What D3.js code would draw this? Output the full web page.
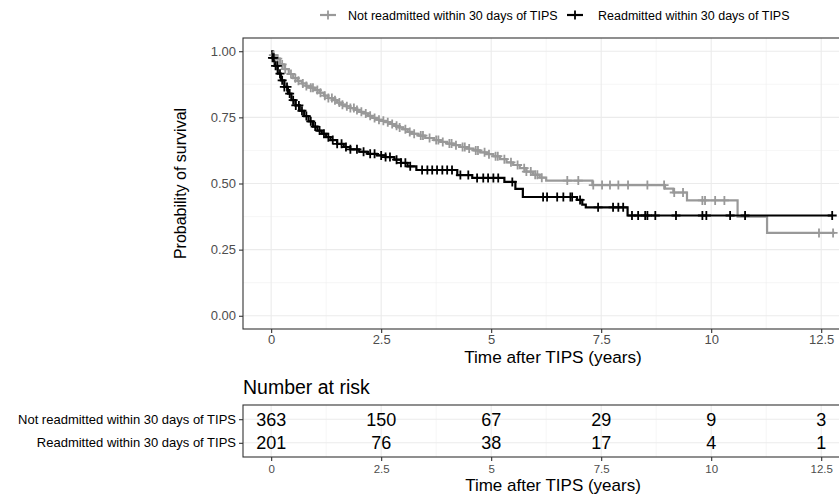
<!DOCTYPE html>
<html>
<head>
<meta charset="utf-8">
<script src="https://cdn.jsdelivr.net/npm/d3@7"></script>
<style>
  body { margin: 0; background: #fff; }
  svg { font-family: "Liberation Sans", Arial, sans-serif; }
</style>
</head>
<body>
<div id="chart"></div>
<script>
// group names
var groups = ["Not readmitted within 30 days of TIPS", "Readmitted within 30 days of TIPS"];
var groupColors = ["#999999", "#000000"];

// Kaplan-Meier steps: [time (years), survival after the step]
var notReadmittedSteps = [
  [0, 1.0], [0.05, 0.985], [0.1, 0.972], [0.2, 0.95], [0.3, 0.932], [0.4, 0.914],
  [0.5, 0.898], [0.6, 0.888], [0.7, 0.878], [0.8, 0.869], [0.9, 0.862], [1.0, 0.853],
  [1.1, 0.843], [1.2, 0.832], [1.3, 0.823], [1.4, 0.815], [1.5, 0.806], [1.6, 0.798],
  [1.7, 0.792], [1.8, 0.785], [1.9, 0.778], [2.0, 0.771], [2.1, 0.765], [2.2, 0.756],
  [2.3, 0.748], [2.4, 0.741], [2.5, 0.737], [2.6, 0.732], [2.7, 0.725], [2.8, 0.718],
  [2.9, 0.712], [3.0, 0.705], [3.1, 0.695], [3.2, 0.688], [3.35, 0.681], [3.5, 0.672],
  [3.7, 0.664], [3.85, 0.657], [4.0, 0.651], [4.15, 0.645], [4.3, 0.638], [4.45, 0.632],
  [4.6, 0.625], [4.75, 0.618], [4.9, 0.611], [5.05, 0.603], [5.2, 0.592], [5.35, 0.58],
  [5.5, 0.57], [5.65, 0.558], [5.8, 0.545], [5.95, 0.533], [6.1, 0.522], [6.25, 0.511],
  [7.3, 0.494], [8.95, 0.481], [9.14, 0.466], [9.45, 0.436], [10.6, 0.375], [11.27, 0.313],
  [12.81, 0.313]
];
var readmittedSteps = [
  [0, 1.0], [0.03, 0.975], [0.08, 0.945], [0.15, 0.915], [0.22, 0.89], [0.3, 0.865],
  [0.38, 0.84], [0.46, 0.815], [0.55, 0.795], [0.65, 0.775], [0.75, 0.755], [0.85, 0.735],
  [0.95, 0.715], [1.05, 0.7], [1.15, 0.688], [1.25, 0.675], [1.35, 0.664], [1.5, 0.65],
  [1.65, 0.638], [1.8, 0.629], [2.0, 0.62], [2.2, 0.612], [2.4, 0.606], [2.6, 0.6],
  [2.8, 0.59], [2.95, 0.578], [3.1, 0.565], [3.3, 0.551], [4.23, 0.532], [4.57, 0.521],
  [5.3, 0.506], [5.55, 0.48], [5.72, 0.449], [6.95, 0.438], [7.07, 0.42], [7.15, 0.41],
  [8.1, 0.379], [12.75, 0.379]
];

// censoring times (years)
var notReadmittedCensor = [0.05, 0.1, 0.15, 0.25, 0.32, 0.45, 0.55, 0.62, 0.72, 0.8, 0.9, 0.95,
  1.05, 1.12, 1.22, 1.3, 1.38, 1.45, 1.55, 1.62, 1.72, 1.8, 1.88, 1.95, 2.05, 2.15, 2.25, 2.35,
  2.45, 2.55, 2.65, 2.75, 2.85, 2.92, 3.05, 3.15, 3.25, 3.4, 3.45, 3.6, 3.75, 3.8, 3.9, 4.05,
  4.1, 4.2, 4.35, 4.4, 4.5, 4.65, 4.7, 4.85, 4.95, 5.1, 5.15, 5.3, 5.45, 5.6, 5.75, 5.8, 5.9,
  6.0, 6.05, 6.15, 6.73, 6.98, 7.32, 7.52, 7.7, 7.89, 8.11, 8.55, 8.93, 9.16, 9.36, 9.8, 9.86,
  10.09, 10.3, 12.45, 12.77];
var readmittedCensor = [0.03, 0.06, 0.1, 0.14, 0.2, 0.25, 0.3, 0.36, 0.42, 0.5, 0.56, 0.63,
  0.7, 0.8, 0.9, 1.0, 1.1, 1.2, 1.3, 1.4, 1.5, 1.6, 1.7, 1.8, 1.95, 2.1, 2.25, 2.35, 2.5, 2.6,
  2.7, 2.85, 2.95, 3.05, 3.16, 3.43, 3.55, 3.66, 3.77, 3.89, 4.0, 4.11, 4.3, 4.48, 4.68, 4.82,
  4.93, 5.05, 5.16, 5.48, 6.18, 6.27, 6.5, 6.64, 6.8, 6.84, 7.02, 7.43, 7.77, 7.89, 8.0, 8.2,
  8.34, 8.5, 8.55, 8.73, 9.2, 9.8, 9.89, 10.43, 10.77, 12.75];

// number at risk table
var riskTimes = [0, 2.5, 5, 7.5, 10, 12.5];
var notReadmittedRisk = [363, 150, 67, 29, 9, 3];
var readmittedRisk = [201, 76, 38, 17, 4, 1];

var xTicks = [0, 2.5, 5, 7.5, 10, 12.5];
var xMinor = [1.25, 3.75, 6.25, 8.75, 11.25];
var yTicks = [0, 0.25, 0.5, 0.75, 1];
var yMinor = [0.125, 0.375, 0.625, 0.875];

var W = 839, H = 498;
var svg = d3.select("#chart").append("svg")
    .attr("width", W)
    .attr("height", H);

var panelLeft = 243, panelRight = 863;
var x = d3.scaleLinear().domain([-0.64, 13.45]).range([panelLeft, panelRight]);
var y = d3.scaleLinear().domain([-0.05, 1.05]).range([329, 38]);

var stepData = [notReadmittedSteps, readmittedSteps];
var censorData = [notReadmittedCensor, readmittedCensor];

function survAt(steps, t) {
    var s = steps[0][1];
    for (var i = 0; i < steps.length; i++) {
        if (steps[i][0] <= t) s = steps[i][1];
    }
    return s;
}

// ---- main panel ----
var main = svg.append("g");

main.selectAll(".minorx").data(xMinor).enter().append("line")
    .attr("x1", function (d) { return x(d); }).attr("x2", function (d) { return x(d); })
    .attr("y1", y.range()[0]).attr("y2", y.range()[1])
    .attr("stroke", "#f0f0f0").attr("stroke-width", 0.6);
main.selectAll(".minory").data(yMinor).enter().append("line")
    .attr("x1", panelLeft).attr("x2", panelRight)
    .attr("y1", function (d) { return y(d); }).attr("y2", function (d) { return y(d); })
    .attr("stroke", "#f0f0f0").attr("stroke-width", 0.6);
main.selectAll(".majorx").data(xTicks).enter().append("line")
    .attr("x1", function (d) { return x(d); }).attr("x2", function (d) { return x(d); })
    .attr("y1", y.range()[0]).attr("y2", y.range()[1])
    .attr("stroke", "#ebebeb").attr("stroke-width", 1.1);
main.selectAll(".majory").data(yTicks).enter().append("line")
    .attr("x1", panelLeft).attr("x2", panelRight)
    .attr("y1", function (d) { return y(d); }).attr("y2", function (d) { return y(d); })
    .attr("stroke", "#ebebeb").attr("stroke-width", 1.1);

// curves
var line = d3.line()
    .x(function (d) { return x(d[0]); })
    .y(function (d) { return y(d[1]); })
    .curve(d3.curveStepAfter);

stepData.forEach(function (steps, i) {
    main.append("path")
        .datum(steps)
        .attr("d", line)
        .attr("fill", "none")
        .attr("stroke", groupColors[i])
        .attr("stroke-width", 2.2);
});

// censor marks
censorData.forEach(function (times, i) {
    main.selectAll(".censor" + i).data(times).enter().append("path")
        .attr("transform", function (d) {
            return "translate(" + x(d) + "," + y(survAt(stepData[i], d)) + ")";
        })
        .attr("d", "M-4.5,0H4.5M0,-4.5V4.5")
        .attr("stroke", groupColors[i])
        .attr("stroke-width", 1.8);
});

// border
main.append("rect")
    .attr("x", panelLeft).attr("y", y.range()[1])
    .attr("width", panelRight - panelLeft).attr("height", y.range()[0] - y.range()[1])
    .attr("fill", "none").attr("stroke", "#333333").attr("stroke-width", 1.1);

// axes
var xAxis = main.append("g")
    .attr("transform", "translate(0," + y.range()[0] + ")")
    .call(d3.axisBottom(x).tickValues(xTicks).tickSize(4).tickPadding(2)
        .tickFormat(function (d) { return d3.format("")(d); }));
var yAxis = main.append("g")
    .attr("transform", "translate(" + panelLeft + ",0)")
    .call(d3.axisLeft(y).tickValues(yTicks).tickSize(4).tickPadding(3)
        .tickFormat(d3.format(".2f")));
[xAxis, yAxis].forEach(function (a) {
    a.select(".domain").remove();
    a.selectAll(".tick line").attr("stroke", "#333333").attr("stroke-width", 1.1);
    a.selectAll(".tick text").attr("fill", "#4d4d4d").style("font-size", "13px")
        .style("font-family", "Liberation Sans, Arial, sans-serif");
});

main.append("text")
    .attr("x", (panelLeft + panelRight) / 2).attr("y", 363)
    .attr("text-anchor", "middle").style("font-size", "17.2px").attr("fill", "#000")
    .text("Time after TIPS (years)");
main.append("text")
    .attr("transform", "translate(186," + (y.range()[0] + y.range()[1]) / 2 + ") rotate(-90)")
    .attr("text-anchor", "middle").style("font-size", "16px").attr("fill", "#000")
    .text("Probability of survival");

// ---- legend ----
var legend = svg.append("g");
var legendX = [320, 567];
groups.forEach(function (g, i) {
    var lg = legend.append("g").attr("transform", "translate(" + legendX[i] + ",15)");
    lg.append("line").attr("x1", 0).attr("x2", 16).attr("y1", 0).attr("y2", 0)
        .attr("stroke", groupColors[i]).attr("stroke-width", 2.2);
    lg.append("path").attr("d", "M3.5,0H12.5M8,-4.5V4.5")
        .attr("stroke", groupColors[i]).attr("stroke-width", 1.8);
    lg.append("text").attr("x", i === 0 ? 28 : 31).attr("y", 4.5)
        .style("font-size", "12.5px").attr("fill", "#000").text(g);
});

// ---- risk table ----
var rTop = 405, rBottom = 457;
var ry = d3.scalePoint().domain(groups).range([rTop, rBottom]).padding(0.6);
var risk = svg.append("g");
var riskRows = [notReadmittedRisk, readmittedRisk];

risk.append("text").attr("x", panelLeft).attr("y", 394)
    .style("font-size", "19.5px").attr("fill", "#000").text("Number at risk");

risk.selectAll(".rminor").data(xMinor).enter().append("line")
    .attr("x1", function (d) { return x(d); }).attr("x2", function (d) { return x(d); })
    .attr("y1", rTop).attr("y2", rBottom)
    .attr("stroke", "#f0f0f0").attr("stroke-width", 0.6);
risk.selectAll(".rmajor").data(xTicks).enter().append("line")
    .attr("x1", function (d) { return x(d); }).attr("x2", function (d) { return x(d); })
    .attr("y1", rTop).attr("y2", rBottom)
    .attr("stroke", "#ebebeb").attr("stroke-width", 1.1);
risk.selectAll(".rrow").data(groups).enter().append("line")
    .attr("x1", panelLeft).attr("x2", panelRight)
    .attr("y1", function (d) { return ry(d); }).attr("y2", function (d) { return ry(d); })
    .attr("stroke", "#ebebeb").attr("stroke-width", 1.1);

riskRows.forEach(function (row, i) {
    risk.selectAll(".num" + i).data(row).enter().append("text")
        .attr("x", function (d, j) { return x(riskTimes[j]); })
        .attr("y", ry(groups[i]) + 6.5)
        .attr("text-anchor", "middle")
        .style("font-size", "18px").attr("fill", "#000")
        .text(function (d) { return d; });
});

risk.append("rect")
    .attr("x", panelLeft).attr("y", rTop)
    .attr("width", panelRight - panelLeft).attr("height", rBottom - rTop)
    .attr("fill", "none").attr("stroke", "#333333").attr("stroke-width", 1.1);

var rxAxis = risk.append("g")
    .attr("transform", "translate(0," + rBottom + ")")
    .call(d3.axisBottom(x).tickValues(xTicks).tickSize(4).tickPadding(4)
        .tickFormat(function (d) { return d3.format("")(d); }));
var ryAxis = risk.append("g")
    .attr("transform", "translate(" + panelLeft + ",0)")
    .call(d3.axisLeft(ry).tickSize(4).tickPadding(3));
rxAxis.select(".domain").remove();
ryAxis.select(".domain").remove();
rxAxis.selectAll(".tick line").attr("stroke", "#333333").attr("stroke-width", 1.1);
ryAxis.selectAll(".tick line").attr("stroke", "#333333").attr("stroke-width", 1.1);
rxAxis.selectAll(".tick text").attr("fill", "#4d4d4d").style("font-size", "11.5px")
    .style("font-family", "Liberation Sans, Arial, sans-serif");
ryAxis.selectAll(".tick text").attr("fill", "#000").style("font-size", "13px")
    .style("font-family", "Liberation Sans, Arial, sans-serif");

risk.append("text")
    .attr("x", (panelLeft + panelRight) / 2).attr("y", 491)
    .attr("text-anchor", "middle").style("font-size", "17px").attr("fill", "#000")
    .text("Time after TIPS (years)");
</script>
</body>
</html>
